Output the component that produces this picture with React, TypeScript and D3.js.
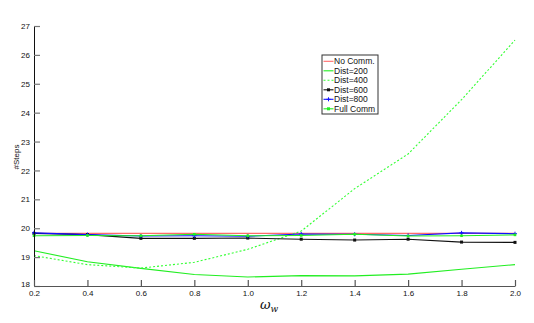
import { useEffect, useRef } from "react";
import * as d3 from "d3";

// omega_w sample points
const omega = [0.2, 0.4, 0.6, 0.8, 1.0, 1.2, 1.4, 1.6, 1.8, 2.0];

const noComm = [19.82, 19.82, 19.82, 19.82, 19.82, 19.82, 19.82, 19.82, 19.82, 19.82];
const dist200 = [19.22, 18.84, 18.61, 18.4, 18.31, 18.36, 18.35, 18.41, 18.58, 18.74];
const dist400 = [19.05, 18.74, 18.62, 18.82, 19.27, 19.9, 21.37, 22.57, 24.45, 26.51];
const dist600 = [19.82, 19.78, 19.65, 19.65, 19.66, 19.62, 19.59, 19.62, 19.52, 19.51];
const dist800 = [19.84, 19.78, 19.73, 19.74, 19.72, 19.8, 19.79, 19.75, 19.84, 19.81];
const fullComm = [19.74, 19.75, 19.74, 19.79, 19.74, 19.75, 19.79, 19.73, 19.74, 19.77];

const xTicks = [0.2, 0.4, 0.6, 0.8, 1.0, 1.2, 1.4, 1.6, 1.8, 2.0];
const yTicks = [18, 19, 20, 21, 22, 23, 24, 25, 26, 27];

const series = [
  { name: "No Comm.", values: noComm, color: "#ff6a6a", dash: null, marker: null },
  { name: "Dist=200", values: dist200, color: "#22ee22", dash: null, marker: null },
  { name: "Dist=400", values: dist400, color: "#33ff33", dash: "2,2", marker: null },
  { name: "Dist=600", values: dist600, color: "#111111", dash: null, marker: "dot" },
  { name: "Dist=800", values: dist800, color: "#1010ff", dash: null, marker: "plus" },
  { name: "Full Comm", values: fullComm, color: "#22ee22", dash: null, marker: "square" },
];

const W = 534;
const H = 323;

export default function App() {
  const svgRef = useRef<SVGSVGElement>(null);

  useEffect(() => {
    const svg = d3.select(svgRef.current);
    svg.selectAll("*").remove();

    const x = d3.scaleLinear().domain([0.2, 2.0]).range([34, 515]);
    const y = d3.scaleLinear().domain([18, 27]).range([286, 26]);
    const font = "Liberation Sans, Arial, sans-serif";

    // lines
    const line = d3
      .line<number>()
      .x((_, i) => x(omega[i]))
      .y((d) => y(d));

    series.forEach((s) => {
      svg
        .append("path")
        .attr("d", line(s.values))
        .attr("fill", "none")
        .attr("stroke", s.color)
        .attr("stroke-width", 1.1)
        .attr("stroke-dasharray", s.dash);
      const g = svg.append("g");
      s.values.forEach((v, i) => {
        const cx = x(omega[i]);
        const cy = y(v);
        if (s.marker === "dot") {
          g.append("rect").attr("x", cx - 1.5).attr("y", cy - 1.5).attr("width", 3).attr("height", 3).attr("fill", s.color);
        } else if (s.marker === "square") {
          g.append("rect").attr("x", cx - 1.3).attr("y", cy - 1.3).attr("width", 2.6).attr("height", 2.6).attr("fill", s.color);
        } else if (s.marker === "plus") {
          g.append("path").attr("d", `M${cx - 2},${cy}H${cx + 2}M${cx},${cy - 2}V${cy + 2}`).attr("stroke", s.color).attr("stroke-width", 1);
        }
      });
    });

    // axes
    const yAxis = svg
      .append("g")
      .attr("transform", "translate(34,0)")
      .call(d3.axisLeft(y).tickValues(yTicks).tickSizeInner(-6).tickSizeOuter(0).tickPadding(4).tickFormat(d3.format("d")));
    yAxis.select(".domain").attr("stroke", "#111").attr("stroke-width", 1);
    yAxis.selectAll(".tick line").attr("stroke", "#777").attr("stroke-width", 1.2);
    yAxis.selectAll(".tick text").attr("font-family", font).attr("font-size", 8).attr("fill", "#111");
    yAxis.selectAll(".tick text").filter((d) => d === 18).attr("dy", "0.05em");

    const xAxis = svg
      .append("g")
      .attr("transform", "translate(0,286)")
      .call(d3.axisBottom(x).tickValues(xTicks).tickSizeInner(-6).tickSizeOuter(0).tickPadding(4).tickFormat(d3.format(".1f")));
    xAxis.select(".domain").attr("stroke", "#555").attr("stroke-width", 1.2);
    xAxis.selectAll(".tick line").attr("stroke", "#555").attr("stroke-width", 1.2);
    xAxis.selectAll(".tick text").attr("font-family", font).attr("font-size", 8).attr("fill", "#111");

    // axis titles
    svg
      .append("text")
      .attr("transform", "translate(19,157) rotate(-90)")
      .attr("text-anchor", "middle")
      .attr("font-family", font)
      .attr("font-size", 8)
      .attr("fill", "#111")
      .text("#Steps");

    const xl = svg
      .append("text")
      .attr("x", 260)
      .attr("y", 309)
      .attr("font-family", "DejaVu Serif, serif")
      .attr("font-style", "italic")
      .attr("font-size", 13)
      .attr("fill", "#111");
    xl.append("tspan").text("ω");
    xl.append("tspan").attr("font-size", 9).attr("dy", 3).text("w");

    // legend
    const lg = svg.append("g").attr("transform", "translate(322,55)");
    lg.append("rect").attr("width", 56).attr("height", 59).attr("fill", "white").attr("stroke", "#333").attr("stroke-width", 1);
    series.forEach((s, i) => {
      const ly = 6.3 + i * 9.5;
      lg.append("line")
        .attr("x1", 1.5).attr("x2", 11.5).attr("y1", ly).attr("y2", ly)
        .attr("stroke", s.color).attr("stroke-width", 1.1).attr("stroke-dasharray", s.dash);
      if (s.marker === "dot" || s.marker === "square") {
        lg.append("rect").attr("x", 5).attr("y", ly - 1.5).attr("width", 3).attr("height", 3).attr("fill", s.color);
      } else if (s.marker === "plus") {
        lg.append("path").attr("d", `M${4.5},${ly}H${8.5}M${6.5},${ly - 2}V${ly + 2}`).attr("stroke", s.color);
      }
      lg.append("text")
        .attr("x", 12)
        .attr("y", ly + 3)
        .attr("font-family", font)
        .attr("font-size", 8.5)
        .attr("fill", "#111")
        .text(s.name);
    });
  }, []);

  return (
    <svg
      ref={svgRef}
      width={W}
      height={H}
      style={{ position: "absolute", left: 0, top: 0, background: "white" }}
    ></svg>
  );
}
